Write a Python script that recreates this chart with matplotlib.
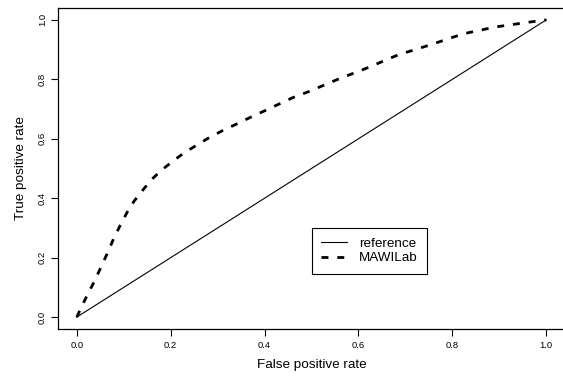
import matplotlib
matplotlib.use("Agg")
import matplotlib.pyplot as plt

# Curva ROC di MAWILab
fpr = [0.0, 0.017, 0.038, 0.055, 0.07, 0.079, 0.093, 0.107, 0.122, 0.141,
       0.16, 0.181, 0.205, 0.228, 0.256, 0.279, 0.311, 0.341, 0.371, 0.40,
       0.431, 0.461, 0.493, 0.556, 0.618, 0.684, 0.753, 0.823, 0.891,
       0.966, 1.0]
tpr = [0.0, 0.057, 0.122, 0.18, 0.232, 0.266, 0.31, 0.352, 0.39, 0.428,
       0.464, 0.495, 0.525, 0.552, 0.579, 0.601, 0.628, 0.65, 0.673, 0.694,
       0.717, 0.739, 0.758, 0.80, 0.838, 0.882, 0.916, 0.953, 0.976,
       0.993, 1.0]

# Diagonale di riferimento
ref_x = [0.0, 1.0]
ref_y = [0.0, 1.0]

ticks = [0.0, 0.2, 0.4, 0.6, 0.8, 1.0]

plt.rcParams['font.family'] = ['Liberation Sans', 'DejaVu Sans']

fig = plt.figure(figsize=(5.63, 3.78), dpi=100)
W, H = 563, 378
ax = fig.add_axes([58 / W, 1 - 329 / H, (565 - 58) / W, (329 - 8) / H])

ax.plot(ref_x, ref_y, color='black', lw=0.8, label='reference')
ax.plot(fpr, tpr, color='black', lw=2.0, dashes=(2.5, 3.2),
        dash_capstyle='butt', label='MAWILab')

ax.set_xlim(-0.04, 1.04)
ax.set_ylim(-0.04, 1.04)
ax.set_xticks(ticks)
ax.set_yticks(ticks)
ax.set_xticklabels([f"{t:.1f}" for t in ticks])
ax.set_yticklabels([f"{t:.1f}" for t in ticks], rotation=90, va='center')
ax.tick_params(direction='out', length=5, width=0.8, labelsize=6.8,
               colors='black', pad=4)
ax.tick_params(axis='y', pad=3)
for s in ax.spines.values():
    s.set_linewidth(0.9)

ax.set_xlabel("False positive rate", fontsize=9.7, labelpad=6)
ax.set_ylabel("True positive rate", fontsize=9.7, labelpad=8)

leg = ax.legend(loc='upper left', bbox_to_anchor=(0.5, 0.30),
                bbox_transform=ax.transData, fontsize=9.7, fancybox=False,
                framealpha=1, edgecolor='black', handlelength=1.9,
                borderpad=0.7, labelspacing=0.15, handletextpad=0.9,
                borderaxespad=0)
leg.get_frame().set_linewidth(0.8)

fig.savefig("out.png", dpi=100)
